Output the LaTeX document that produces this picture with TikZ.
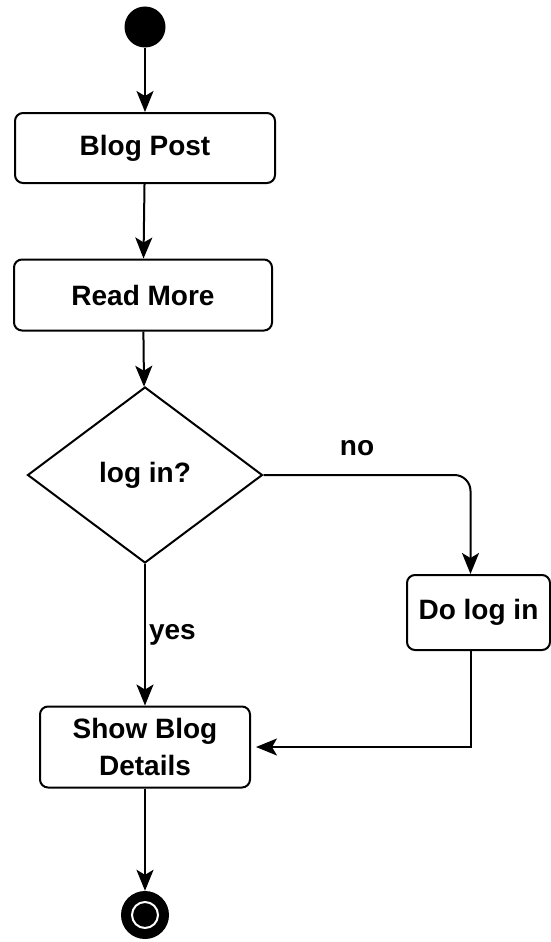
\documentclass[tikz,border=0pt]{standalone}
\usepackage{fontspec}
\setmainfont{Liberation Sans}
\usetikzlibrary{arrows.meta,shapes.geometric}

\begin{document}
\begin{tikzpicture}[
        %Environment Config
        x=1pt, y=-1pt,
        font=\fontsize{28}{37}\selectfont\bfseries,
        MyArrow/.style={%Style for the flow
            -{Stealth[length=21pt,width=17pt,inset=5pt]},
            black,
            line width=2pt
        },
        ActBox/.style={%Style for the activities
            draw,
            rounded corners=8pt,
            line width=2pt,
            align=center,
            minimum height=70pt,
            inner sep=4pt
        },
        Decision/.style={%Style for the choice
            draw,
            diamond,
            line width=2pt,
            minimum width=235pt,
            minimum height=176pt,
            inner sep=0pt
        },
        StartNode/.style={%Style for the start mark
            circle,
            fill=black,
            minimum size=41pt,
            inner sep=0pt
        },
        EndNode/.style={%Style for the end mark
            circle,
            fill=black,
            minimum size=48pt,
            inner sep=0pt,
            path picture={\draw[white, line width=2pt] (path picture bounding box.center) circle (13pt);}
        },
        MyLabel/.style={%Style for the branch texts
            inner sep=3pt
        }
    ]
    \useasboundingbox (0,0) rectangle (551,942);

    %%%%%%%%%%%%%%%%%%%%%%%%%%%%%%%%%%%%%%%%%%%%%%%%%%%%%%%%%%%%%%%%%%%%%%%%%%%%
    % ACTIVITIES
    %%%%%%%%%%%%%%%%%%%%%%%%%%%%%%%%%%%%%%%%%%%%%%%%%%%%%%%%%%%%%%%%%%%%%%%%%%%%
    % upper part
    \node[StartNode] (ST1) at (145,27) {};
    \node[ActBox, minimum width=260pt] (BP1) at (145,148) {Blog Post};
    \node[ActBox, minimum width=258pt, minimum height=71pt] (RM1) at (143,295) {Read More};

    % choice
    \node[Decision] (LI1) at (145,475) {log in?};
    \node[MyLabel] (TNO1) at (357,448) {no};
    \node[ActBox, minimum width=143pt, minimum height=75pt] (DL1) at (478.5,612.5) {Do log in};

    % lower part
    \node[ActBox, minimum width=210pt, minimum height=81pt] (SD1) at (145,747) {Show Blog\\Details};
    \node[EndNode] (EN1) at (145,915) {};

    %%%%%%%%%%%%%%%%%%%%%%%%%%%%%%%%%%%%%%%%%%%%%%%%%%%%%%%%%%%%%%%%%%%%%%%%%%%%
    % FLOW
    %%%%%%%%%%%%%%%%%%%%%%%%%%%%%%%%%%%%%%%%%%%%%%%%%%%%%%%%%%%%%%%%%%%%%%%%%%%%
    \draw[MyArrow] (ST1) -- (BP1);
    \draw[MyArrow] (BP1) -- (RM1);
    \draw[MyArrow] (RM1) -- (LI1);
    \draw[MyArrow] (LI1) -- (SD1) node[MyLabel, midway, anchor=west] (TYES1) {yes};
    \draw[MyArrow, rounded corners=16pt] (LI1.east) -| ([xshift=-8pt]DL1.north);
    \draw[MyArrow, shorten >=5pt] ([xshift=-8pt]DL1.south) |- (SD1.east);
    \draw[MyArrow] (SD1) -- (EN1);
\end{tikzpicture}
\end{document}
